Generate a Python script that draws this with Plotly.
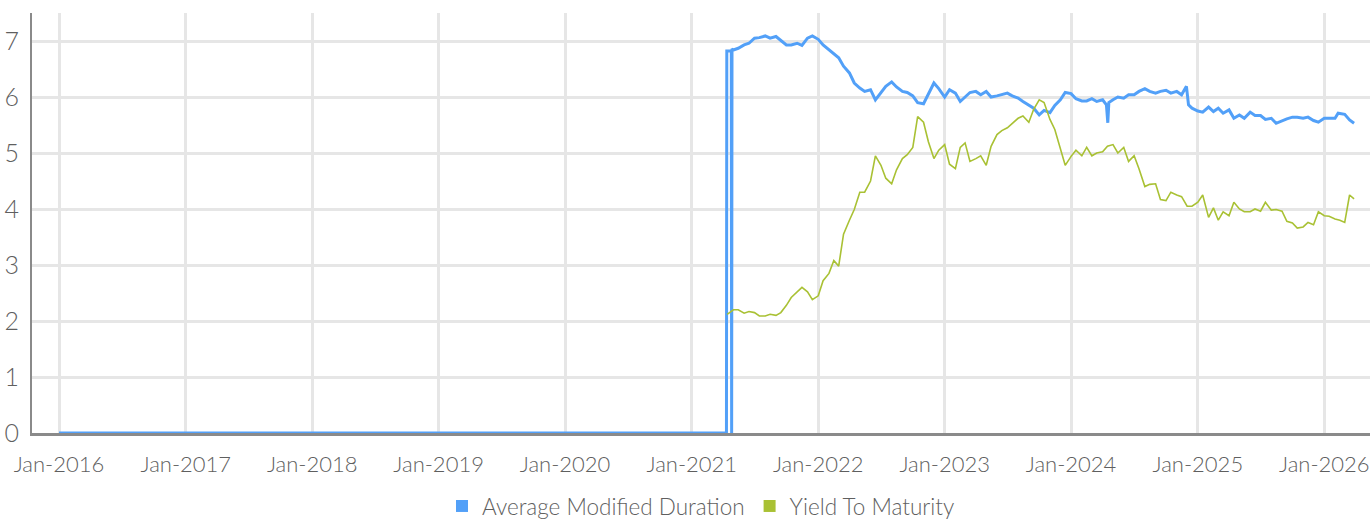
import plotly.graph_objects as go

# Average Modified Duration
dur_dates = [
    "2016-01-01", "2021-04-11", "2021-04-12", "2021-04-25", "2021-04-26", "2021-04-27",
    "2021-05-01", "2021-05-15", "2021-06-01", "2021-06-15", "2021-07-01", "2021-07-15",
    "2021-08-01", "2021-08-15", "2021-09-01", "2021-09-15", "2021-10-01", "2021-10-15",
    "2021-11-01", "2021-11-15", "2021-12-01", "2021-12-15", "2022-01-01", "2022-01-15",
    "2022-02-01", "2022-02-15", "2022-03-01", "2022-03-15", "2022-04-01", "2022-04-15",
    "2022-05-01", "2022-05-15", "2022-06-01", "2022-06-15", "2022-07-01", "2022-07-15",
    "2022-08-01", "2022-08-15", "2022-09-01", "2022-09-15", "2022-10-01", "2022-10-15",
    "2022-11-01", "2022-11-15", "2022-12-01", "2022-12-15", "2023-01-01", "2023-01-15",
    "2023-02-01", "2023-02-15", "2023-03-01", "2023-03-15", "2023-04-01", "2023-04-15",
    "2023-05-01", "2023-05-15", "2023-06-01", "2023-06-15", "2023-07-01", "2023-07-15",
    "2023-08-01", "2023-08-15", "2023-09-01", "2023-09-15", "2023-10-01", "2023-10-15",
    "2023-11-01", "2023-11-15", "2023-12-01", "2023-12-15", "2024-01-01", "2024-01-15",
    "2024-02-01", "2024-02-15", "2024-03-01", "2024-03-15", "2024-04-01", "2024-04-12",
    "2024-04-16", "2024-04-19", "2024-05-01", "2024-05-15", "2024-06-01", "2024-06-15",
    "2024-07-01", "2024-07-15", "2024-08-01", "2024-08-15", "2024-09-01", "2024-09-15",
    "2024-10-01", "2024-10-15", "2024-11-01", "2024-11-15", "2024-11-29", "2024-12-05",
    "2024-12-15", "2025-01-01", "2025-01-15", "2025-02-01", "2025-02-15", "2025-03-01",
    "2025-03-15", "2025-04-01", "2025-04-15", "2025-05-01", "2025-05-15", "2025-06-01",
    "2025-06-15", "2025-07-01", "2025-07-15", "2025-08-01", "2025-08-15", "2025-09-01",
    "2025-09-15", "2025-10-01", "2025-10-15", "2025-11-01", "2025-11-15", "2025-12-01",
    "2025-12-15", "2026-01-01", "2026-01-15", "2026-02-01", "2026-02-10", "2026-03-01",
    "2026-03-15", "2026-03-28",
]
dur_values = [
    0, 0, 6.82, 6.82, 0, 6.86,
    6.84, 6.87, 6.93, 6.96, 7.05, 7.06,
    7.09, 7.05, 7.08, 7.01, 6.93, 6.93,
    6.96, 6.92, 7.05, 7.09, 7.03, 6.93,
    6.84, 6.76, 6.70, 6.55, 6.43, 6.25,
    6.16, 6.10, 6.13, 5.95, 6.07, 6.19,
    6.27, 6.18, 6.10, 6.08, 6.02, 5.90,
    5.88, 6.05, 6.25, 6.15, 6.00, 6.13,
    6.07, 5.92, 6.00, 6.08, 6.10, 6.04,
    6.10, 6.00, 6.02, 6.04, 6.07, 6.02,
    5.98, 5.92, 5.85, 5.80, 5.68, 5.76,
    5.72, 5.85, 5.95, 6.08, 6.06, 5.97,
    5.93, 5.93, 5.97, 5.92, 5.95, 5.86,
    5.54, 5.90, 5.95, 6.00, 5.98, 6.04,
    6.04, 6.10, 6.15, 6.10, 6.07, 6.10,
    6.12, 6.07, 6.10, 6.04, 6.19, 5.86,
    5.80, 5.75, 5.73, 5.82, 5.74, 5.80,
    5.71, 5.77, 5.62, 5.68, 5.62, 5.73,
    5.67, 5.67, 5.60, 5.62, 5.53, 5.58,
    5.61, 5.64, 5.64, 5.62, 5.64, 5.58,
    5.55, 5.62, 5.62, 5.62, 5.71, 5.69,
    5.59, 5.53,
]

# Yield To Maturity
ytm_dates = [
    "2021-04-13", "2021-05-01", "2021-05-15", "2021-06-01", "2021-06-15", "2021-07-01",
    "2021-07-15", "2021-08-01", "2021-08-15", "2021-09-01", "2021-09-15", "2021-10-01",
    "2021-10-15", "2021-11-01", "2021-11-15", "2021-12-01", "2021-12-15", "2022-01-01",
    "2022-01-15", "2022-02-01", "2022-02-15", "2022-03-01", "2022-03-15", "2022-04-01",
    "2022-04-15", "2022-05-01", "2022-05-15", "2022-06-01", "2022-06-15", "2022-07-01",
    "2022-07-15", "2022-08-01", "2022-08-15", "2022-09-01", "2022-09-15", "2022-10-01",
    "2022-10-15", "2022-11-01", "2022-11-15", "2022-12-01", "2022-12-15", "2023-01-01",
    "2023-01-15", "2023-02-01", "2023-02-15", "2023-03-01", "2023-03-15", "2023-04-01",
    "2023-04-15", "2023-05-01", "2023-05-15", "2023-06-01", "2023-06-15", "2023-07-01",
    "2023-07-15", "2023-08-01", "2023-08-15", "2023-09-01", "2023-09-15", "2023-10-01",
    "2023-10-15", "2023-11-01", "2023-11-15", "2023-12-01", "2023-12-15", "2024-01-01",
    "2024-01-15", "2024-02-01", "2024-02-15", "2024-03-01", "2024-03-15", "2024-04-01",
    "2024-04-15", "2024-05-01", "2024-05-15", "2024-06-01", "2024-06-15", "2024-07-01",
    "2024-07-15", "2024-08-01", "2024-08-15", "2024-09-01", "2024-09-15", "2024-10-01",
    "2024-10-15", "2024-11-01", "2024-11-15", "2024-12-01", "2024-12-15", "2025-01-01",
    "2025-01-15", "2025-02-01", "2025-02-15", "2025-03-01", "2025-03-15", "2025-04-01",
    "2025-04-15", "2025-05-01", "2025-05-15", "2025-06-01", "2025-06-15", "2025-07-01",
    "2025-07-15", "2025-08-01", "2025-08-15", "2025-09-01", "2025-09-15", "2025-10-01",
    "2025-10-15", "2025-11-01", "2025-11-15", "2025-12-01", "2025-12-15", "2026-01-01",
    "2026-01-15", "2026-02-01", "2026-02-15", "2026-03-01", "2026-03-12", "2026-03-15",
    "2026-03-28",
]
ytm_values = [
    2.12, 2.20, 2.20, 2.14, 2.17, 2.15,
    2.09, 2.09, 2.12, 2.10, 2.15, 2.28,
    2.42, 2.52, 2.60, 2.52, 2.38, 2.45,
    2.72, 2.85, 3.08, 2.98, 3.55, 3.80,
    3.99, 4.30, 4.30, 4.50, 4.95, 4.78,
    4.55, 4.45, 4.70, 4.90, 4.97, 5.10,
    5.65, 5.55, 5.20, 4.90, 5.05, 5.15,
    4.80, 4.72, 5.10, 5.18, 4.85, 4.90,
    4.95, 4.78, 5.12, 5.33, 5.40, 5.45,
    5.52, 5.62, 5.66, 5.55, 5.78, 5.95,
    5.90, 5.60, 5.42, 5.10, 4.78, 4.94,
    5.05, 4.95, 5.10, 4.95, 5.00, 5.02,
    5.12, 5.15, 5.00, 5.10, 4.85, 4.95,
    4.72, 4.40, 4.44, 4.45, 4.17, 4.15,
    4.30, 4.25, 4.22, 4.05, 4.05, 4.12,
    4.25, 3.85, 4.02, 3.80, 3.95, 3.88,
    4.12, 4.00, 3.95, 3.95, 4.00, 3.96,
    4.12, 3.98, 3.99, 3.96, 3.78, 3.75,
    3.66, 3.68, 3.76, 3.72, 3.95, 3.88,
    3.87, 3.82, 3.80, 3.76, 4.14, 4.25,
    4.18,
]

series_names = ["Average Modified Duration", "Yield To Maturity"]
y_ticks = [0, 1, 2, 3, 4, 5, 6, 7]

BLUE = "#52a0f8"
GREEN = "#a9c134"
FONT = "Lato, Roboto, sans-serif"
TXT = "#5f5f5f"

fig = go.Figure()
fig.add_trace(go.Scatter(x=dur_dates, y=dur_values, mode="lines",
                         line=dict(color=BLUE, width=3), showlegend=False,
                         name=series_names[0]))
fig.add_trace(go.Scatter(x=ytm_dates, y=ytm_values, mode="lines",
                         line=dict(color=GREEN, width=1.6), showlegend=False,
                         name=series_names[1]))
# legend entries with square swatches
fig.add_trace(go.Scatter(x=[None], y=[None], mode="markers", name=series_names[0],
                         marker=dict(symbol="square", size=12, color=BLUE)))
fig.add_trace(go.Scatter(x=[None], y=[None], mode="markers", name=series_names[1],
                         marker=dict(symbol="square", size=12, color=GREEN)))

fig.update_layout(
    width=1370, height=522,
    margin=dict(l=32, r=0, t=13, b=89),
    paper_bgcolor="white", plot_bgcolor="white",
    font=dict(family=FONT, color=TXT, size=20, weight=300),
    legend=dict(orientation="h", x=0.5, xanchor="center", yref="container",
                y=0.03, yanchor="middle",
                font=dict(size=22.5, color=TXT, family=FONT, weight=300),
                itemwidth=30, tracegroupgap=0),
    xaxis=dict(
        type="date", range=["2015-10-15", "2026-05-13"],
        tick0="2016-01-01", dtick="M12", tickformat="%b-%Y",
        showgrid=True, gridcolor="#e6e6e6", gridwidth=2.5,
        showline=True, linecolor="#8a8a8a", linewidth=3,
        ticks="", ticklabelstandoff=10,
        tickfont=dict(size=22, color=TXT, family=FONT, weight=300),
        zeroline=False, automargin=False,
    ),
    yaxis=dict(
        range=[0, 7.5], tickvals=y_ticks,
        showgrid=True, gridcolor="#e6e6e6", gridwidth=2.5,
        showline=True, linecolor="#8a8a8a", linewidth=2,
        ticks="", ticklabelstandoff=6,
        tickfont=dict(size=25, color=TXT, family=FONT, weight=300),
        zeroline=False, automargin=False,
    ),
)

fig.write_html("out.html", config={"displayModeBar": False},
               post_script="document.body.style.margin='0';")
